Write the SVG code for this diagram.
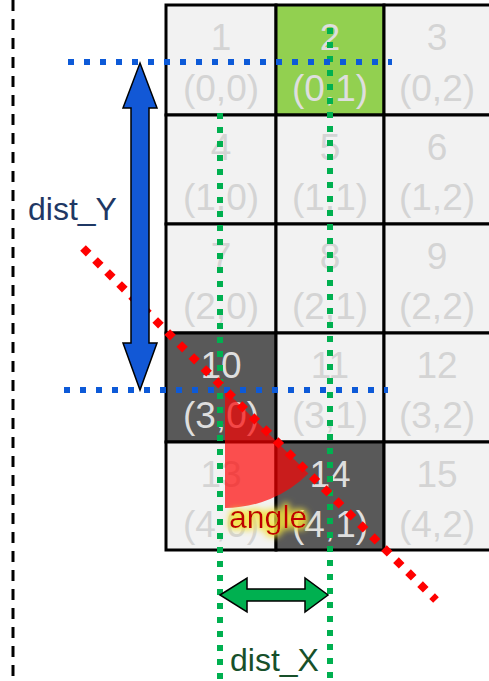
<svg xmlns="http://www.w3.org/2000/svg" width="489" height="681" viewBox="0 0 489 681">
<style>
.cl{fill:#f2f2f2;stroke:#000;stroke-width:3}
.cd{fill:#595959;stroke:#000;stroke-width:3}
.cg{fill:#92d050;stroke:#000;stroke-width:3}
.t{font-family:"Liberation Sans",Arial,sans-serif;font-size:37px;text-anchor:middle;fill:#d4d4d4}
.td{fill:#dedede}
.lbl{font-family:"Liberation Sans",Arial,sans-serif;font-size:32px}
.gd{fill:none;stroke:#00b050;stroke-width:6;stroke-dasharray:6 8}
.bd{fill:none;stroke:#0d5ad8;stroke-width:6;stroke-dasharray:6 10}
</style>
<defs>
<filter id="glow" x="-20%" y="-50%" width="140%" height="200%">
<feMorphology in="SourceAlpha" operator="dilate" radius="2" result="d"/>
<feGaussianBlur in="d" stdDeviation="3" result="b"/>
<feFlood flood-color="#f3e23c" flood-opacity="0.9"/>
<feComposite in2="b" operator="in" result="g"/>
<feMerge><feMergeNode in="g"/><feMergeNode in="SourceGraphic"/></feMerge>
</filter>
</defs>
<rect width="489" height="681" fill="#fff"/>
<line x1="13" y1="0" x2="13" y2="681" stroke="#000" stroke-width="3" stroke-dasharray="11 8"/>
<g id="cell1"><rect class="cl" x="166" y="5" width="110" height="110"/><text class="t" x="221" y="50">1</text><text class="t" x="221" y="101">(0,0)</text></g>
<g id="cell2"><rect class="cg" x="276" y="5" width="108" height="110"/><text class="t td" x="330" y="50">2</text><text class="t td" x="330" y="101">(0,1)</text></g>
<g id="cell3"><rect class="cl" x="384" y="5" width="110" height="110"/><text class="t" x="437" y="50">3</text><text class="t" x="437" y="101">(0,2)</text></g>
<g id="cell4"><rect class="cl" x="166" y="115" width="110" height="109"/><text class="t" x="221" y="160">4</text><text class="t" x="221" y="210">(1,0)</text></g>
<g id="cell5"><rect class="cl" x="276" y="115" width="108" height="109"/><text class="t" x="330" y="160">5</text><text class="t" x="330" y="210">(1,1)</text></g>
<g id="cell6"><rect class="cl" x="384" y="115" width="110" height="109"/><text class="t" x="437" y="160">6</text><text class="t" x="437" y="210">(1,2)</text></g>
<g id="cell7"><rect class="cl" x="166" y="224" width="110" height="109"/><text class="t" x="221" y="269">7</text><text class="t" x="221" y="319">(2,0)</text></g>
<g id="cell8"><rect class="cl" x="276" y="224" width="108" height="109"/><text class="t" x="330" y="269">8</text><text class="t" x="330" y="319">(2,1)</text></g>
<g id="cell9"><rect class="cl" x="384" y="224" width="110" height="109"/><text class="t" x="437" y="269">9</text><text class="t" x="437" y="319">(2,2)</text></g>
<g id="cell10"><rect class="cd" x="166" y="333" width="110" height="109"/><text class="t td" x="221" y="378">10</text><text class="t td" x="221" y="428">(3,0)</text></g>
<g id="cell11"><rect class="cl" x="276" y="333" width="108" height="109"/><text class="t" x="330" y="378">11</text><text class="t" x="330" y="428">(3,1)</text></g>
<g id="cell12"><rect class="cl" x="384" y="333" width="110" height="109"/><text class="t" x="437" y="378">12</text><text class="t" x="437" y="428">(3,2)</text></g>
<g id="cell13"><rect class="cl" x="166" y="442" width="110" height="108"/><text class="t" x="221" y="487">13</text><text class="t" x="221" y="537">(4,0)</text></g>
<g id="cell14"><rect class="cd" x="276" y="442" width="108" height="108"/><text class="t td" x="330" y="487">14</text><text class="t td" x="330" y="537">(4,1)</text></g>
<g id="cell15"><rect class="cl" x="384" y="442" width="110" height="108"/><text class="t" x="437" y="487">15</text><text class="t" x="437" y="537">(4,2)</text></g>
<g id="angle">
<path d="M225,390 L225,508 A118,118 0 0 0 308.4,473.4 Z" fill="#ff0000" fill-opacity="0.68"/>
<text class="lbl" x="229" y="528" fill="#c00000" filter="url(#glow)">angle</text>
</g>
<g id="connectors">
<line class="gd" x1="220" y1="113" x2="220" y2="681"/>
<line class="gd" x1="330" y1="28" x2="330" y2="681"/>
<line class="bd" x1="68" y1="62" x2="392" y2="62"/>
<line class="bd" x1="64" y1="390" x2="388" y2="390"/>
<line x1="83" y1="248" x2="436" y2="600" stroke="#ff0000" stroke-width="8" stroke-dasharray="8 9"/>
<polygon id="distY_arrow" points="140,63 157,108 149,108 149,343 157,343 140,390 123,343 131,343 131,108 123,108" fill="#1258d6" stroke="#000" stroke-width="1.5"/>
<polygon id="distX_arrow" points="220,595 247,578 247,589 305,589 305,578 328,595 305,612 305,601 247,601 247,612" fill="#00b050" stroke="#000" stroke-width="1.5"/>
</g>
<g id="labels">
<text class="lbl" x="28" y="220" fill="#1f3864">dist_Y</text>
<text class="lbl" x="230" y="671" fill="#17502a">dist_X</text>
</g>
</svg>
